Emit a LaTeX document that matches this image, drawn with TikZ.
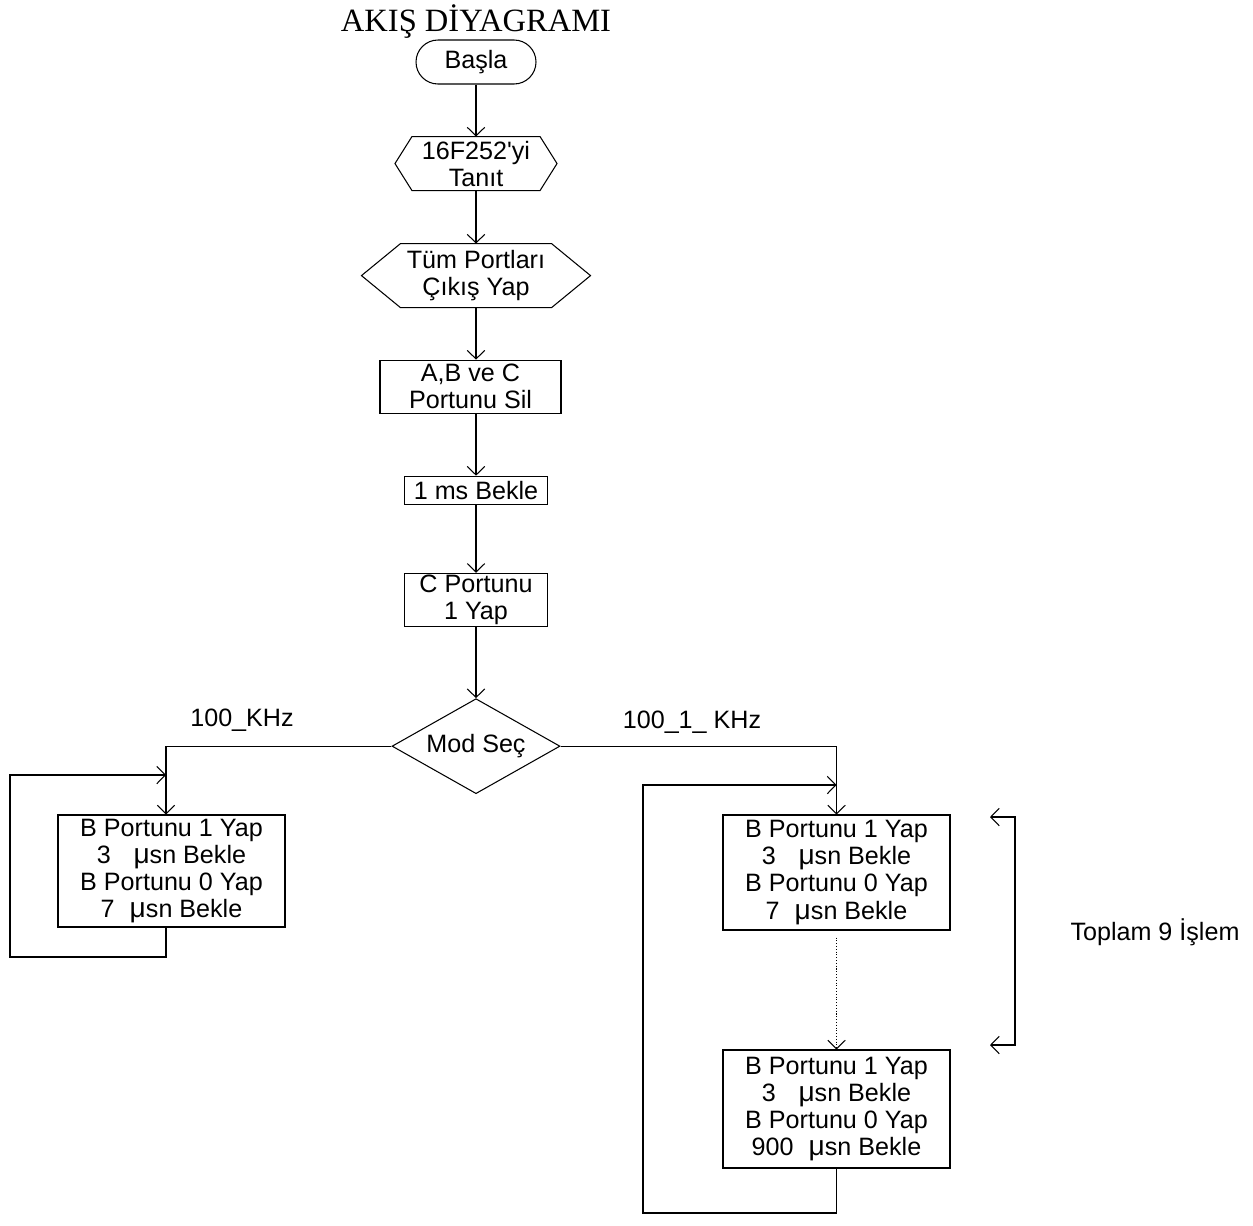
\documentclass[tikz,border=0pt]{standalone}
\usepackage{fontspec}
\setmainfont{Liberation Sans}
\newfontfamily\titlefont{Liberation Serif}
\usetikzlibrary{arrows.meta,positioning,shapes.geometric}

\begin{document}
\begin{tikzpicture}[
  font=\fontsize{14.3}{15.4}\selectfont,
  line width=0.6pt,
  >={Straight Barb[length=1.7mm,width=3.5mm]},
  term/.style={
    draw,
    rounded corners=4.4mm,
    minimum width=2.4cm,
    minimum height=8.8mm,
    inner sep=0pt
  },
  prep/.style={
    align=center,
    inner sep=0pt
  },
  proc/.style={
    draw,
    align=center,
    inner sep=1pt
  },
  decide/.style={
    draw,
    diamond,
    aspect=1.77,
    minimum width=3.36cm,
    minimum height=1.9cm,
    inner sep=0pt
  },
  flow/.style={->}
]
\useasboundingbox (0,0) rectangle (25.06,-24.5);
\node[font=\titlefont\fontsize{18.5}{20}\selectfont,anchor=base] (title) at (9.52,-0.62) {AKIŞ DİYAGRAMI};
\node[term] (start) at (9.52,-1.24) {Başla};
\node[prep,minimum width=3.22cm,minimum height=1.06cm,below=1.04cm of start] (init) {16F252\textquotesingle yi\\Tanıt};
\draw (init.west) -- ([xshift=3.4mm]init.north west) -- ([xshift=-3.4mm]init.north east) -- (init.east)
  -- ([xshift=-3.4mm]init.south east) -- ([xshift=3.4mm]init.south west) -- cycle;
\node[prep,minimum width=4.56cm,minimum height=1.26cm,below=1.06cm of init] (ports) {Tüm Portları\\Çıkış Yap};
\draw (ports.west) -- ([xshift=7.8mm]ports.north west) -- ([xshift=-7.8mm]ports.north east) -- (ports.east)
  -- ([xshift=-7.8mm]ports.south east) -- ([xshift=7.8mm]ports.south west) -- cycle;
\node[proc,minimum width=3.62cm,minimum height=1.06cm,below=1.04cm of ports,xshift=-1.1mm] (clear) {A,B ve C\\Portunu Sil};
\node[proc,minimum width=2.86cm,minimum height=5.6mm,below=1.24cm of clear,xshift=1.1mm] (wait) {1 ms Bekle};
\node[proc,minimum width=2.86cm,minimum height=1.04cm,below=1.36cm of wait] (cport) {C Portunu\\1 Yap};
\node[decide,below=1.42cm of cport] (mode) {Mod Seç};
% left branch
\node[proc,minimum width=4.54cm,minimum height=2.24cm] (fast) at (3.43,-17.42) {
  B Portunu 1 Yap\\
  3\hspace{0.9em}{\fontsize{16}{15.4}\selectfont μ}sn Bekle\\
  B Portunu 0 Yap\\
  7\hspace{0.6em}{\fontsize{16}{15.4}\selectfont μ}sn Bekle
};
% right branch
\node[proc,minimum width=4.54cm,minimum height=2.3cm] (slowa) at (16.73,-17.45) {
  B Portunu 1 Yap\\
  3\hspace{0.9em}{\fontsize{16}{15.4}\selectfont μ}sn Bekle\\
  B Portunu 0 Yap\\
  7\hspace{0.6em}{\fontsize{16}{15.4}\selectfont μ}sn Bekle
};
\node[proc,minimum width=4.54cm,minimum height=2.36cm] (slowb) at (16.73,-22.18) {
  B Portunu 1 Yap\\
  3\hspace{0.9em}{\fontsize{16}{15.4}\selectfont μ}sn Bekle\\
  B Portunu 0 Yap\\
  900\hspace{0.6em}{\fontsize{16}{15.4}\selectfont μ}sn Bekle
};
\node (lfast) at (4.84,-14.4) {100\_KHz};
\node (lslow) at (13.84,-14.44) {100\_1\_ KHz};
\node (ltotal) at (23.1,-18.64) {Toplam 9 İşlem};
\draw[flow] (start) -- (init);
\draw[flow] (init) -- (ports);
\draw[flow] (ports) -- (ports.south |- clear.north);
\draw[flow] (clear.south -| wait.north) -- (wait);
\draw[flow] (wait) -- (cport);
\draw[flow] (cport) -- (mode);
\draw[flow] (mode.west) -| ([xshift=-1.1mm]fast.north);
\draw[flow] (mode.east) -| (slowa.north);
\draw[flow,densely dotted] ([yshift=-1.4mm]slowa.south) -- (slowb);
% loops
\coordinate (fastbot) at (0.2,-19.14);
\coordinate (fastin) at (3.32,-15.5);
\draw[flow] ([xshift=-1.1mm]fast.south) |- (fastbot) |- (fastin);
\coordinate (slowbot) at (12.86,-24.26);
\coordinate (slowin) at (16.73,-15.7);
\draw[flow] (slowb.south) |- (slowbot) |- (slowin);
% bracket
\coordinate (rtop) at (19.8,-16.34);
\coordinate (rbot) at (19.8,-20.9);
\draw[<->] (rtop) -- ++(0.5,0) |- (rbot);
\end{tikzpicture}
\end{document}
